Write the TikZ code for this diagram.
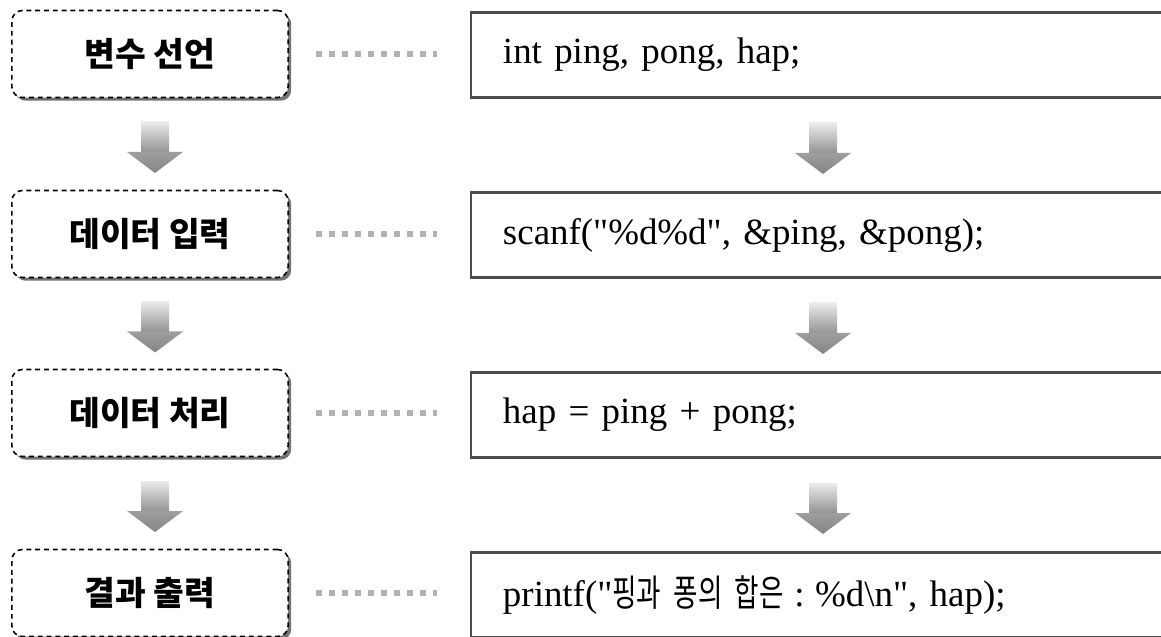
\documentclass[tikz,border=0pt]{standalone}
\usepackage{fontspec}
\setmainfont{Liberation Serif}
\newfontfamily\kor{Noto Sans CJK KR}
\newfontfamily\korcode[FakeStretch=0.72]{Noto Sans CJK KR}
\usetikzlibrary{calc,shadows}
\tikzset{ph/.style={draw,dashed,dash pattern=on 1.4pt off 1.1pt,line width=0.45pt,rounded corners=3pt,fill=white,
    minimum width=2.76cm,minimum height=0.87cm,font=\kor\bfseries\fontsize{9.5}{11}\selectfont,
    drop shadow={shadow xshift=0.9pt,shadow yshift=-0.9pt,fill=black!55,opacity=1}}}
\tikzset{cd/.style={draw=black!70,line width=0.6pt,minimum width=7.04cm,minimum height=0.85cm,
    text width=182pt,inner xsep=9.1pt,align=left,font=\fontsize{10.5}{12}\selectfont}}
\tikzset{dt/.style={black!30,line width=1.7pt,dash pattern=on 1.7pt off 2pt,shorten <=7.7pt,shorten >=9.4pt}}
\tikzset{down/.pic={
    \shade[top color=black!8,bottom color=black!42] (-14,-25) rectangle (14,5);
    \shade[top color=black!38,bottom color=black!48] (-28,5) -- (28,5) -- (0,26) -- cycle;}}
\newcommand{\q}{\textquotedbl}

\begin{document}
\begin{tikzpicture}[x=0.01cm,y=-0.01cm]
    \path[use as bounding box,clip] (0,0) rectangle (1161,637);
      % steps on the left
      \node[ph] (L1) at (150,54) {변수 선언};
      \node[ph] (L2) at (150,234) {데이터 입력};
      \node[ph] (L3) at (150,413) {데이터 처리};
      \node[ph] (L4) at (150,593) {결과 출력};
      % matching code on the right
      \node[cd] (C1) at (823,55) {int ping, pong, hap;};
      \node[cd] (C2) at (823,235) {scanf(\q\%d\%d\q, \&ping, \&pong);};
      \node[cd] (C3) at (823,415) {hap = ping + pong;};
      \node[cd] (C4) at (823,595) {printf(\q{\korcode 핑과 퐁의 합은}\hspace{3pt}:\hspace{3pt}\%d\textbackslash n\q, hap);};
      \foreach \i in {1,...,4}
        \draw[dt] (L\i.east) -- (L\i.east -| C\i.west);
      \foreach \i/\j in {1/2,2/3,3/4} {
        \pic at ($(L\i.south)!0.5!(L\j.north)+(5,3)$) {down};
        \pic at ($(C\i.south)!0.5!(C\j.north)+(0,3)$) {down};
      }
    \end{tikzpicture}
\end{document}
